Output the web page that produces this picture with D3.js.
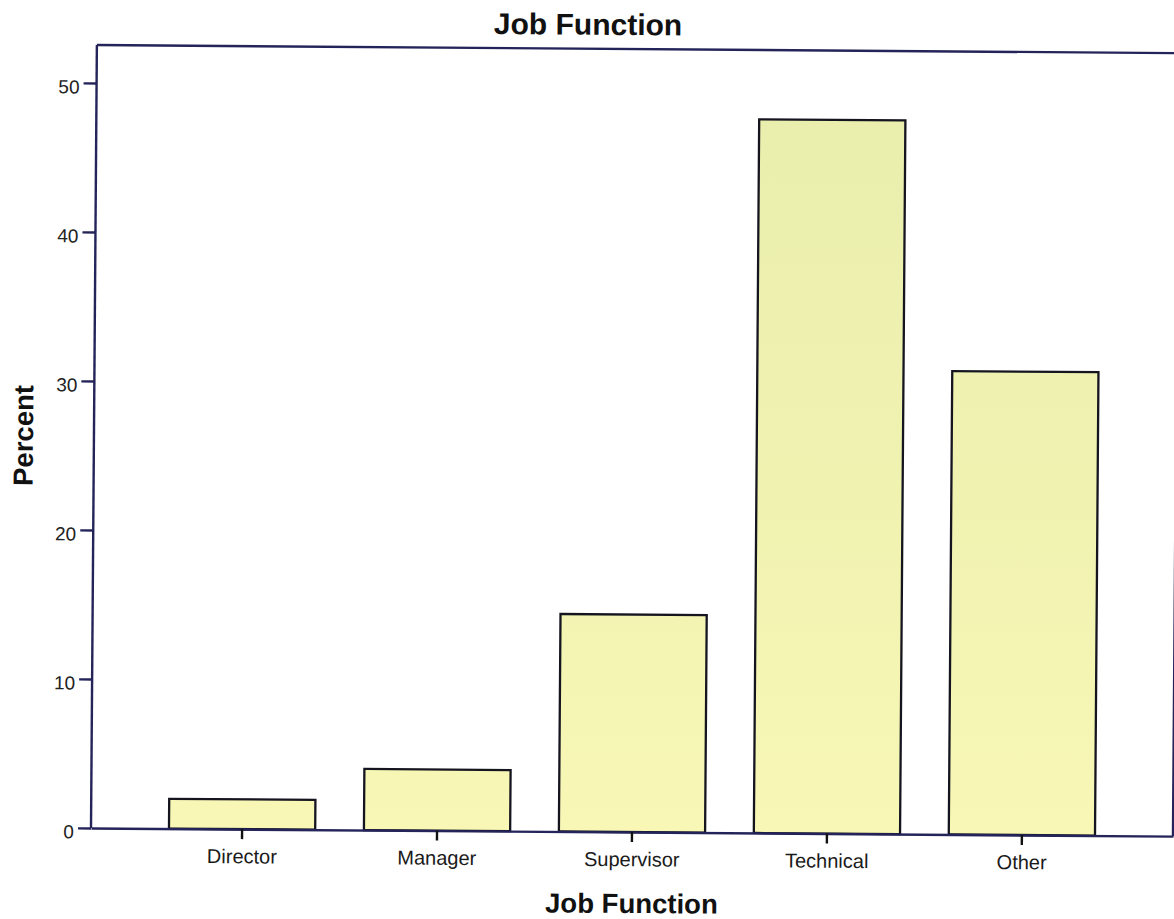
<!DOCTYPE html>
<html>
<head>
<meta charset="utf-8">
<title>Job Function</title>
<script src="https://cdn.jsdelivr.net/npm/d3@7/dist/d3.min.js"></script>
<style>
  html, body { margin: 0; padding: 0; background: #ffffff; }
  svg { display: block; }
  text { font-family: "Liberation Sans", Arial, sans-serif; }
</style>
</head>
<body>
<svg id="chart" width="1174" height="919"></svg>
<script>
// Job function distribution (percent of respondents)
const categories = ["Director", "Manager", "Supervisor", "Technical", "Other"];
const percents = [2.0, 4.1, 14.6, 47.9, 31.1];
const yTicks = [0, 10, 20, 30, 40, 50];

const svg = d3.select("#chart");

// Plot frame
const plotLeft = 91, plotRight = 1173, plotBottom = 828, plotTop = 45;

const x = d3.scaleBand()
  .domain(categories)
  .range([plotLeft, plotRight])
  .paddingInner(0.25)
  .paddingOuter(0.4);

const y = d3.scaleLinear()
  .domain([0, 50])
  .range([plotBottom, plotBottom - 745]);

// Fill gradient for the bars
const defs = svg.append("defs");
const grad = defs.append("linearGradient")
  .attr("id", "barFill")
  .attr("gradientUnits", "userSpaceOnUse")
  .attr("x1", 0).attr("x2", 0)
  .attr("y1", plotTop).attr("y2", plotBottom);
grad.append("stop").attr("offset", "0%").attr("stop-color", "#e9eead");
grad.append("stop").attr("offset", "55%").attr("stop-color", "#f0f2b0");
grad.append("stop").attr("offset", "100%").attr("stop-color", "#f8f7b6");

// The whole page sits at a slight tilt
const g = svg.append("g")
  .attr("transform", `rotate(0.43, ${plotLeft}, ${plotBottom})`);

// Bars
g.append("g")
  .selectAll("rect")
  .data(categories)
  .join("rect")
  .attr("x", d => x(d))
  .attr("y", (d, i) => y(percents[i]))
  .attr("width", x.bandwidth())
  .attr("height", (d, i) => y(0) - y(percents[i]))
  .attr("fill", "url(#barFill)")
  .attr("stroke", "#151520")
  .attr("stroke-width", 2.3);

// Frame: top and right edges
const frameColor = "#24245a";
g.append("path")
  .attr("d", `M${plotLeft},${plotTop}H${plotRight}V${plotBottom}`)
  .attr("fill", "none")
  .attr("stroke", frameColor)
  .attr("stroke-width", 2.4);

// Y axis
const yAxis = g.append("g")
  .attr("transform", `translate(${plotLeft},0)`)
  .call(d3.axisLeft(y).tickValues(yTicks).tickSize(13).tickPadding(4).tickSizeOuter(0));
yAxis.select(".domain")
  .attr("d", `M0,${plotBottom}V${plotTop}`)
  .attr("stroke", frameColor).attr("stroke-width", 2.4);
yAxis.selectAll(".tick line").attr("stroke", frameColor).attr("stroke-width", 2.4);
yAxis.selectAll(".tick text")
  .attr("font-size", 19)
  .attr("fill", "#222222")
  .attr("dy", "0.53em");

// X axis
const xAxis = g.append("g")
  .attr("transform", `translate(0,${plotBottom})`)
  .call(d3.axisBottom(x).tickSize(10).tickPadding(10).tickSizeOuter(0));
xAxis.select(".domain")
  .attr("stroke", frameColor).attr("stroke-width", 2.4);
xAxis.selectAll(".tick line").attr("stroke", "#111111").attr("stroke-width", 2.4);
xAxis.selectAll(".tick text")
  .attr("font-size", 20)
  .attr("fill", "#1a1a1a")
  .attr("dy", "0.71em");

// Titles
g.append("text")
  .attr("x", 582).attr("y", 31)
  .attr("text-anchor", "middle")
  .attr("font-size", 30).attr("font-weight", "bold")
  .attr("fill", "#111111")
  .text("Job Function");

g.append("text")
  .attr("x", 632).attr("y", 909)
  .attr("text-anchor", "middle")
  .attr("font-size", 27.5).attr("font-weight", "bold")
  .attr("fill", "#111111")
  .text("Job Function");

g.append("text")
  .attr("transform", "translate(30,436) rotate(-90)")
  .attr("text-anchor", "middle")
  .attr("font-size", 27.5).attr("font-weight", "bold")
  .attr("fill", "#111111")
  .text("Percent");
</script>
</body>
</html>
